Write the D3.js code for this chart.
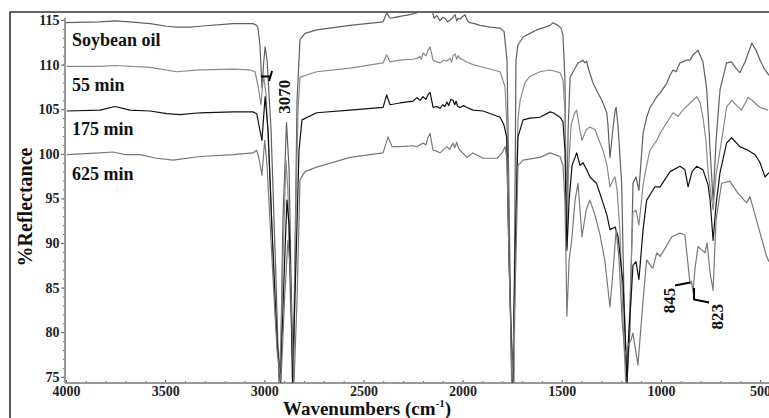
<!DOCTYPE html>
<html>
<head>
<meta charset="utf-8">
<script src="https://cdn.jsdelivr.net/npm/d3@7"></script>
<style>
  body { margin: 0; background: #fff; }
  svg { display: block; }
</style>
</head>
<body>
<script>
// tick labels
const wavenumberTicks = [4000, 3500, 3000, 2500, 2000, 1500, 1000, 500];
const reflectanceTicks = [75, 80, 85, 90, 95, 100, 105, 110, 115];

// spectra, [wavenumber (cm-1), %reflectance]
const soybeanOil = [[4000,114.7],[3829,114.8],[3753,114.9],[3677,114.8],[3576,114.6],[3492,114.3],[3442,114.2],[3375,114.2],[3324,114.3],[3158,114.6],[3057,114.6],[3038,114.4],[3032,114.1],[3022,112.2],[3012,107.4],[3004,110.0],[2996,112.0],[2986,110.5],[2966,102.7],[2941,85.9],[2926,74.4],[2916,79.1],[2906,92.6],[2888,103.5],[2875,98.2],[2865,85.9],[2855,74.4],[2845,89.2],[2835,106.0],[2820,112.8],[2795,113.5],[2736,113.9],[2568,114.4],[2401,114.8],[2383,115.8],[2366,115.2],[2341,115.3],[2316,115.4],[2265,115.6],[2215,115.9],[2190,116.3],[2155,116.2],[2144,115.2],[2130,115.5],[2114,114.9],[2100,115.3],[2089,115.2],[2075,114.8],[2063,115.0],[2050,115.3],[2038,115.6],[2030,114.9],[2023,115.2],[2013,115.1],[2000,115.4],[1988,115.6],[1975,114.9],[1963,114.7],[1940,114.6],[1912,114.4],[1862,114.2],[1811,114.1],[1791,113.7],[1776,110.5],[1766,94.8],[1753,74.4],[1743,74.4],[1736,94.8],[1731,110.5],[1721,112.2],[1695,113.1],[1660,113.5],[1625,113.9],[1584,114.2],[1559,114.4],[1544,114.7],[1519,114.4],[1504,114.1],[1494,113.3],[1484,108.3],[1476,90.1],[1468,102.7],[1458,108.6],[1433,109.6],[1418,110.2],[1408,110.3],[1393,110.5],[1383,110.2],[1374,110.4],[1368,109.7],[1342,107.9],[1317,106.8],[1298,106.0],[1273,104.6],[1267,103.2],[1257,99.6],[1241,103.0],[1231,104.9],[1226,105.2],[1216,103.0],[1198,96.7],[1186,83.6],[1171,74.4],[1156,80.3],[1141,96.7],[1126,97.4],[1111,95.9],[1090,102.3],[1072,104.1],[1055,105.2],[1040,105.7],[1021,106.4],[1004,106.8],[971,107.9],[954,108.8],[939,109.4],[924,109.2],[904,110.2],[870,110.5],[853,110.5],[838,111.1],[813,111.6],[788,110.3],[769,107.2],[752,100.4],[737,94.8],[722,101.5],[702,107.2],[669,110.2],[644,110.3],[622,109.6],[602,109.1],[576,110.3],[542,112.4],[520,111.6],[500,110.5],[480,109.6],[455,108.8]];

const min55 = [[3996,109.8],[3829,109.8],[3753,109.9],[3576,109.7],[3442,109.2],[3324,109.4],[3158,109.5],[3072,109.4],[3047,109.2],[3032,107.7],[3017,105.5],[3004,108.8],[2991,106.6],[2971,97.1],[2946,82.5],[2921,74.4],[2906,88.1],[2891,99.3],[2881,95.9],[2870,84.7],[2853,74.4],[2840,94.8],[2830,104.9],[2820,108.6],[2736,109.2],[2568,109.6],[2401,110.2],[2383,111.1],[2366,110.3],[2316,110.5],[2250,110.6],[2231,110.7],[2215,110.9],[2207,110.6],[2200,111.3],[2185,111.0],[2175,111.6],[2164,112.0],[2156,111.2],[2149,110.5],[2130,110.3],[2114,110.2],[2095,110.5],[2080,110.4],[2063,110.7],[2055,110.3],[2048,111.0],[2038,111.2],[2030,110.6],[2022,111.0],[2013,110.7],[1978,110.3],[1948,110.0],[1897,109.7],[1811,109.2],[1786,107.5],[1776,102.7],[1766,89.2],[1751,74.4],[1741,74.4],[1731,94.8],[1721,103.8],[1710,106.0],[1685,108.0],[1660,108.7],[1610,109.2],[1559,109.4],[1509,109.1],[1494,108.3],[1484,104.9],[1474,89.6],[1466,98.2],[1453,103.2],[1438,104.4],[1425,104.9],[1413,103.2],[1398,101.5],[1377,102.7],[1358,103.0],[1332,102.7],[1312,101.5],[1292,100.4],[1272,98.7],[1257,96.3],[1241,97.1],[1231,97.4],[1221,95.9],[1206,91.1],[1191,81.4],[1178,74.4],[1161,80.3],[1141,93.4],[1126,93.7],[1111,92.0],[1090,96.5],[1072,98.7],[1055,100.4],[1021,101.5],[1004,102.3],[979,103.2],[939,104.6],[914,104.2],[889,104.9],[853,105.7],[820,106.4],[803,105.8],[788,104.1],[773,101.5],[762,97.9],[737,93.7],[722,97.6],[694,101.5],[669,105.2],[644,106.0],[622,105.5],[593,104.9],[561,106.3],[541,106.0],[500,105.2],[460,104.9]];

const min175 = [[3996,104.8],[3829,104.9],[3753,105.3],[3677,104.9],[3576,104.8],[3492,104.5],[3425,104.4],[3324,104.6],[3158,104.7],[3057,104.7],[3038,104.5],[3027,103.2],[3012,101.5],[2996,106.4],[2981,102.7],[2961,91.5],[2936,79.1],[2918,74.4],[2901,85.9],[2886,94.8],[2875,92.0],[2865,83.6],[2858,74.4],[2840,88.1],[2825,100.4],[2810,103.8],[2736,104.6],[2568,104.9],[2401,105.2],[2383,106.6],[2366,105.5],[2316,105.7],[2250,105.9],[2231,106.3],[2215,106.0],[2200,106.4],[2185,106.1],[2175,106.6],[2164,106.9],[2156,106.0],[2149,105.2],[2130,105.3],[2114,105.1],[2100,105.5],[2090,105.3],[2079,105.8],[2070,105.4],[2060,106.1],[2048,106.0],[2040,105.5],[2033,105.9],[2025,105.3],[2013,105.2],[1995,105.4],[1978,105.2],[1948,104.9],[1897,104.8],[1811,104.1],[1791,103.2],[1778,101.9],[1766,88.1],[1748,74.4],[1736,88.1],[1721,101.9],[1695,103.8],[1660,104.0],[1610,104.1],[1559,104.7],[1544,104.6],[1509,104.1],[1494,103.6],[1484,100.4],[1474,89.2],[1463,94.8],[1448,98.7],[1425,100.1],[1408,98.7],[1393,99.0],[1374,98.2],[1358,97.4],[1325,96.7],[1292,94.5],[1272,93.1],[1257,91.5],[1231,91.8],[1216,90.7],[1201,87.5],[1191,85.5],[1171,74.4],[1161,80.3],[1151,83.6],[1141,87.5],[1126,87.9],[1111,85.9],[1090,91.5],[1072,94.8],[1030,96.3],[1004,96.3],[954,98.0],[904,98.6],[879,98.2],[863,96.3],[843,98.0],[820,98.6],[788,98.2],[762,96.5],[752,94.8],[737,90.3],[722,94.3],[702,97.9],[669,101.2],[644,101.8],[602,100.8],[561,100.4],[525,99.9],[500,99.0],[475,97.4],[455,97.9]];

const min625 = [[3996,99.9],[3829,100.1],[3763,100.2],[3702,99.9],[3627,99.9],[3543,99.5],[3460,99.3],[3324,99.7],[3158,99.9],[3057,100.1],[3038,100.4],[3027,99.5],[3012,97.6],[2998,101.5],[2986,98.7],[2961,88.1],[2936,78.0],[2916,74.4],[2898,83.6],[2881,90.3],[2870,87.5],[2860,80.3],[2850,74.4],[2835,83.6],[2820,97.1],[2795,98.0],[2736,98.5],[2568,99.6],[2401,100.1],[2376,101.9],[2356,100.8],[2316,100.8],[2250,100.9],[2231,100.8],[2215,101.0],[2200,101.2],[2185,101.0],[2175,101.8],[2164,102.3],[2156,101.2],[2149,100.4],[2130,100.3],[2114,100.1],[2095,100.5],[2079,100.8],[2065,100.5],[2048,101.2],[2040,100.7],[2030,101.3],[2020,100.6],[2013,100.4],[1995,100.0],[1978,99.6],[1948,100.1],[1897,99.5],[1826,99.5],[1801,100.1],[1786,100.8],[1776,99.3],[1766,88.1],[1751,74.4],[1736,83.6],[1721,98.7],[1695,99.3],[1610,99.6],[1559,100.1],[1509,99.7],[1494,98.7],[1484,94.8],[1474,81.8],[1463,88.1],[1450,90.3],[1433,94.8],[1418,96.7],[1398,90.7],[1377,93.7],[1358,94.8],[1332,93.1],[1307,90.9],[1282,87.9],[1257,82.8],[1241,87.0],[1226,91.5],[1211,88.1],[1196,81.4],[1181,77.4],[1166,78.5],[1151,79.1],[1141,79.9],[1116,76.3],[1090,83.6],[1072,88.1],[1047,87.3],[1040,87.2],[1021,88.9],[1004,88.5],[979,89.4],[945,90.7],[904,91.1],[879,90.9],[863,87.5],[853,85.4],[846,85.7],[838,84.5],[828,87.2],[813,89.6],[793,89.2],[778,88.9],[767,90.0],[752,86.6],[737,84.7],[722,92.6],[694,96.7],[652,96.9],[612,95.6],[568,94.5],[551,95.2],[536,94.0],[500,91.1],[467,88.5],[455,87.9]];

const seriesNames = ["Soybean oil", "55 min", "175 min", "625 min"];
const seriesData = [soybeanOil, min55, min175, min625];
const seriesColors = ["#606060", "#8a8a8a", "#111111", "#787878"];
// where each name sits (value at its baseline)
const labelValues = [112.1, 107.0, 102.1, 97.05];

// band labels with their leader lines
const bandLabels = [
  { text: "3070", at: [2870, 106.4], lines: [[[3017,108.67],[2971,108.67]], [[2976,108.16],[2961,109.28]]] },
  { text: "845",  at: [929, 83.55],  lines: [[[929,85.24],[853,85.57]]] },
  { text: "823",  at: [687, 81.74],  lines: [[[833,84.95],[833,83.67],[757,83.33]]] }
];

const W = 769, H = 418;
const serif = "'Liberation Serif', 'Times New Roman', serif";

const svg = d3.select("body").append("svg")
  .attr("width", W).attr("height", H)
  .style("font-family", serif);

const x = d3.scaleLinear().domain([4000, 450]).range([66, 770]);
const y = d3.scaleLinear().domain([74.3, 115.9]).range([383, 12]);

svg.append("clipPath").attr("id", "plotClip")
  .append("rect").attr("x", 65).attr("y", 12).attr("width", 710).attr("height", 372);

// outer frame (left and top edges are what shows)
svg.append("path")
  .attr("d", "M10,418 L10,12 L769,12")
  .attr("fill", "none").attr("stroke", "#333").attr("stroke-width", 1.6);

// y axis
const gy = svg.append("g").attr("transform", "translate(65,0)");
gy.call(d3.axisLeft(y).tickValues(d3.range(75, 116, 1)).tickSize(2).tickFormat(""))
  .call(g => g.select(".domain").remove());
gy.append("g")
  .call(d3.axisLeft(y).tickValues(reflectanceTicks).tickSize(4).tickPadding(1.5).tickFormat(d3.format("d")))
  .call(g => g.select(".domain").remove());
gy.selectAll(".tick line").attr("stroke", "#666");
gy.selectAll(".tick text")
  .attr("font-family", serif).attr("font-size", 14).attr("font-weight", "bold").attr("fill", "#222");
gy.append("line")
  .attr("x1", 0).attr("x2", 0).attr("y1", y(74.3)).attr("y2", y(115.25))
  .attr("stroke", "#999").attr("stroke-width", 2);

// x axis
const gx = svg.append("g").attr("transform", "translate(0,383)");
gx.call(d3.axisBottom(x).tickValues(d3.range(4000, 450, -100)).tickSize(-2).tickFormat(""))
  .call(g => g.select(".domain").remove());
gx.append("g")
  .call(d3.axisBottom(x).tickValues(wavenumberTicks).tickSize(-3).tickPadding(3).tickFormat(d3.format("d")))
  .call(g => g.select(".domain").remove());
gx.selectAll(".tick line").attr("stroke", "#666");
gx.selectAll(".tick text")
  .attr("font-family", serif).attr("font-size", 14).attr("font-weight", "bold").attr("fill", "#222");
gx.append("line")
  .attr("x1", 65).attr("x2", 769).attr("y1", 0).attr("y2", 0)
  .attr("stroke", "#999").attr("stroke-width", 2);

// spectra
const line = d3.line().x(d => x(d[0])).y(d => y(d[1]));
svg.append("g").attr("clip-path", "url(#plotClip)")
  .selectAll("path")
  .data(seriesData)
  .join("path")
  .attr("d", line)
  .attr("fill", "none")
  .attr("stroke", (d, i) => seriesColors[i])
  .attr("stroke-width", 1.2)
  .attr("stroke-linejoin", "round");

// series names
svg.selectAll(".series-name")
  .data(seriesNames)
  .join("text")
  .attr("class", "series-name")
  .attr("x", x(3970))
  .attr("y", (d, i) => y(labelValues[i]))
  .attr("font-size", 18).attr("font-weight", "bold").attr("fill", "#111")
  .text(d => d);

// band annotations
const bands = svg.append("g");
bandLabels.forEach(b => {
  b.lines.forEach(pts => {
    bands.append("path")
      .attr("d", d3.line().x(p => x(p[0])).y(p => y(p[1]))(pts))
      .attr("fill", "none").attr("stroke", "#000").attr("stroke-width", 2);
  });
  bands.append("text")
    .attr("transform", `translate(${x(b.at[0])},${y(b.at[1])}) rotate(-90)`)
    .attr("text-anchor", "middle")
    .attr("font-size", 17).attr("font-weight", "bold").attr("fill", "#111")
    .text(b.text);
});

// axis titles
svg.append("text")
  .attr("transform", "translate(32,207) rotate(-90)")
  .attr("text-anchor", "middle")
  .attr("font-size", 20).attr("font-weight", "bold").attr("fill", "#111")
  .text("%Reflectance");

const xt = svg.append("text")
  .attr("x", 367).attr("y", 415)
  .attr("text-anchor", "middle")
  .attr("font-size", 19).attr("font-weight", "bold").attr("fill", "#111");
xt.append("tspan").text("Wavenumbers (cm");
xt.append("tspan").attr("dy", -8).attr("font-size", 11).text("-1");
xt.append("tspan").attr("dy", 8).text(")");
</script>
</body>
</html>
